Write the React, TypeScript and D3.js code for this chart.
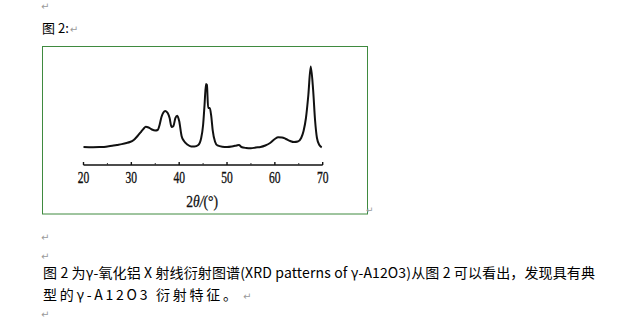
import React from "react";
import * as d3 from "d3";

const angles = [20, 22, 24, 25, 26, 27, 28, 29, 29.7, 30.5, 31.3, 32, 32.6, 33, 33.6, 34.3, 35, 35.5, 35.9, 36.3, 36.7, 37.1, 37.6, 38, 38.4, 38.8, 39.2, 39.6, 40, 40.5, 41, 41.7, 42.5, 43.2, 44, 44.6, 45, 45.3, 45.6, 45.8, 46.05, 46.4, 46.7, 47, 47.5, 48, 49, 50, 51, 52, 52.5, 53, 54, 55, 56, 57, 58, 59, 60, 60.7, 61.5, 62.3, 63.2, 64, 64.8, 65.5, 66, 66.5, 67, 67.5, 68, 68.4, 68.8, 69.3, 69.8];
const intensities = [3.6, 3.4, 3.5, 4.2, 5, 6, 7, 8.3, 9.5, 12, 16.7, 21.4, 25.6, 27.7, 26.8, 24.4, 23.2, 23.8, 29.8, 39.3, 44.6, 46.4, 44, 38, 27.4, 28.6, 38, 40.8, 34.5, 16.7, 10.7, 6.5, 4.2, 4.2, 6, 14.3, 29.8, 53.6, 78.6, 77.4, 50, 50, 40.5, 23.8, 9.9, 5.4, 3.9, 3.6, 4.2, 5.4, 6, 3.6, 2.4, 2, 3, 3.6, 5.4, 8.3, 13.1, 15.1, 14.9, 13.1, 10.7, 9.5, 10.1, 14.3, 22.6, 38.1, 65.5, 99.4, 71.4, 35.7, 14.3, 6, 3.2];
const majorTicks = [20, 30, 40, 50, 60, 70];
const minorTicks = [25, 35, 45, 55, 65];
const heading = "图 2:";
const para1 = "图 2 为γ-氧化铝 X 射线衍射图谱(XRD patterns of γ-A12O3)从图 2 可以看出，发现具有典";
const para2 = "型的γ-A12O3 衍射特征。";

export default function App() {
  const x = d3.scaleLinear().domain([20, 70]).range([83.5, 322.7]);
  const y = d3.scaleLinear().domain([0, 100]).range([150, 66]);
  const pts = angles.map((a, i) => [a, intensities[i]] as [number, number]);
  const line = d3
    .line<[number, number]>()
    .x((d) => x(d[0]))
    .y((d) => y(d[1]))
    .curve(d3.curveMonotoneX);
  const axisY = 165;
  const mark = { fill: "#9a9a9a", fontSize: 10, fontFamily: "DejaVu Sans" };
  const cjk = "'Noto Sans CJK SC', 'Noto Sans', sans-serif";
  return (
    <svg
      width={641}
      height={330}
      style={{ position: "absolute", left: 0, top: 0, background: "#fff" }}
    >
      <rect x={0} y={0} width={641} height={330} fill="#fff" />
      <text x={41} y={10} {...mark}>↵</text>
      <text x={42} y={33} fontSize={13} fontFamily={cjk} fill="#000">
        {heading}
        <tspan {...mark} dx={1}>↵</tspan>
      </text>
      <rect x={42.5} y={46.5} width={325} height={167.5} fill="none" stroke="#3f8a3f" strokeWidth={1} />
      <text x={366} y={213} {...mark} fontSize={9}>↵</text>

      <path d={line(pts) || ""} fill="none" stroke="#111" strokeWidth={2} strokeLinejoin="round" />

      <line x1={x(20)} x2={x(70)} y1={axisY} y2={axisY} stroke="#111" strokeWidth={1.4} />
      {majorTicks.map((t) => (
        <g key={t}>
          <line x1={x(t)} x2={x(t)} y1={axisY} y2={axisY - 3} stroke="#111" strokeWidth={1.4} />
          <text
            transform={`translate(${x(t)},183) scale(0.72,1)`}
            textAnchor="middle"
            fontSize={16}
            fontFamily="'Liberation Serif', serif"
            fill="#111"
            stroke="#111"
            strokeWidth={0.35}
          >
            {t}
          </text>
        </g>
      ))}
      {minorTicks.map((t) => (
        <line key={t} x1={x(t)} x2={x(t)} y1={axisY} y2={axisY - 2} stroke="#333" strokeWidth={1} />
      ))}
      <text
        transform={`translate(${x(44.8)},207) scale(0.8,1)`}
        textAnchor="middle"
        fontSize={17}
        fontFamily="'Liberation Serif', serif"
        fill="#111"
        stroke="#111"
        strokeWidth={0.3}
      >
        2<tspan fontStyle="italic">θ/</tspan>(°)
      </text>

      <text x={41} y={241} {...mark}>↵</text>
      <text x={41} y={260} {...mark}>↵</text>
      <text
        x={43}
        y={278}
        fontSize={14}
        fontFamily={cjk}
        fill="#000"
        textLength={552}
        lengthAdjust="spacing"
      >
        {para1}
      </text>
      <text x={43} y={300} fontSize={14} fontFamily={cjk} fill="#000" textLength={194} lengthAdjust="spacing">
        {para2}
      </text>
      <text x={243} y={300} {...mark}>↵</text>
      <text x={41} y={318} {...mark}>↵</text>
    </svg>
  );
}
